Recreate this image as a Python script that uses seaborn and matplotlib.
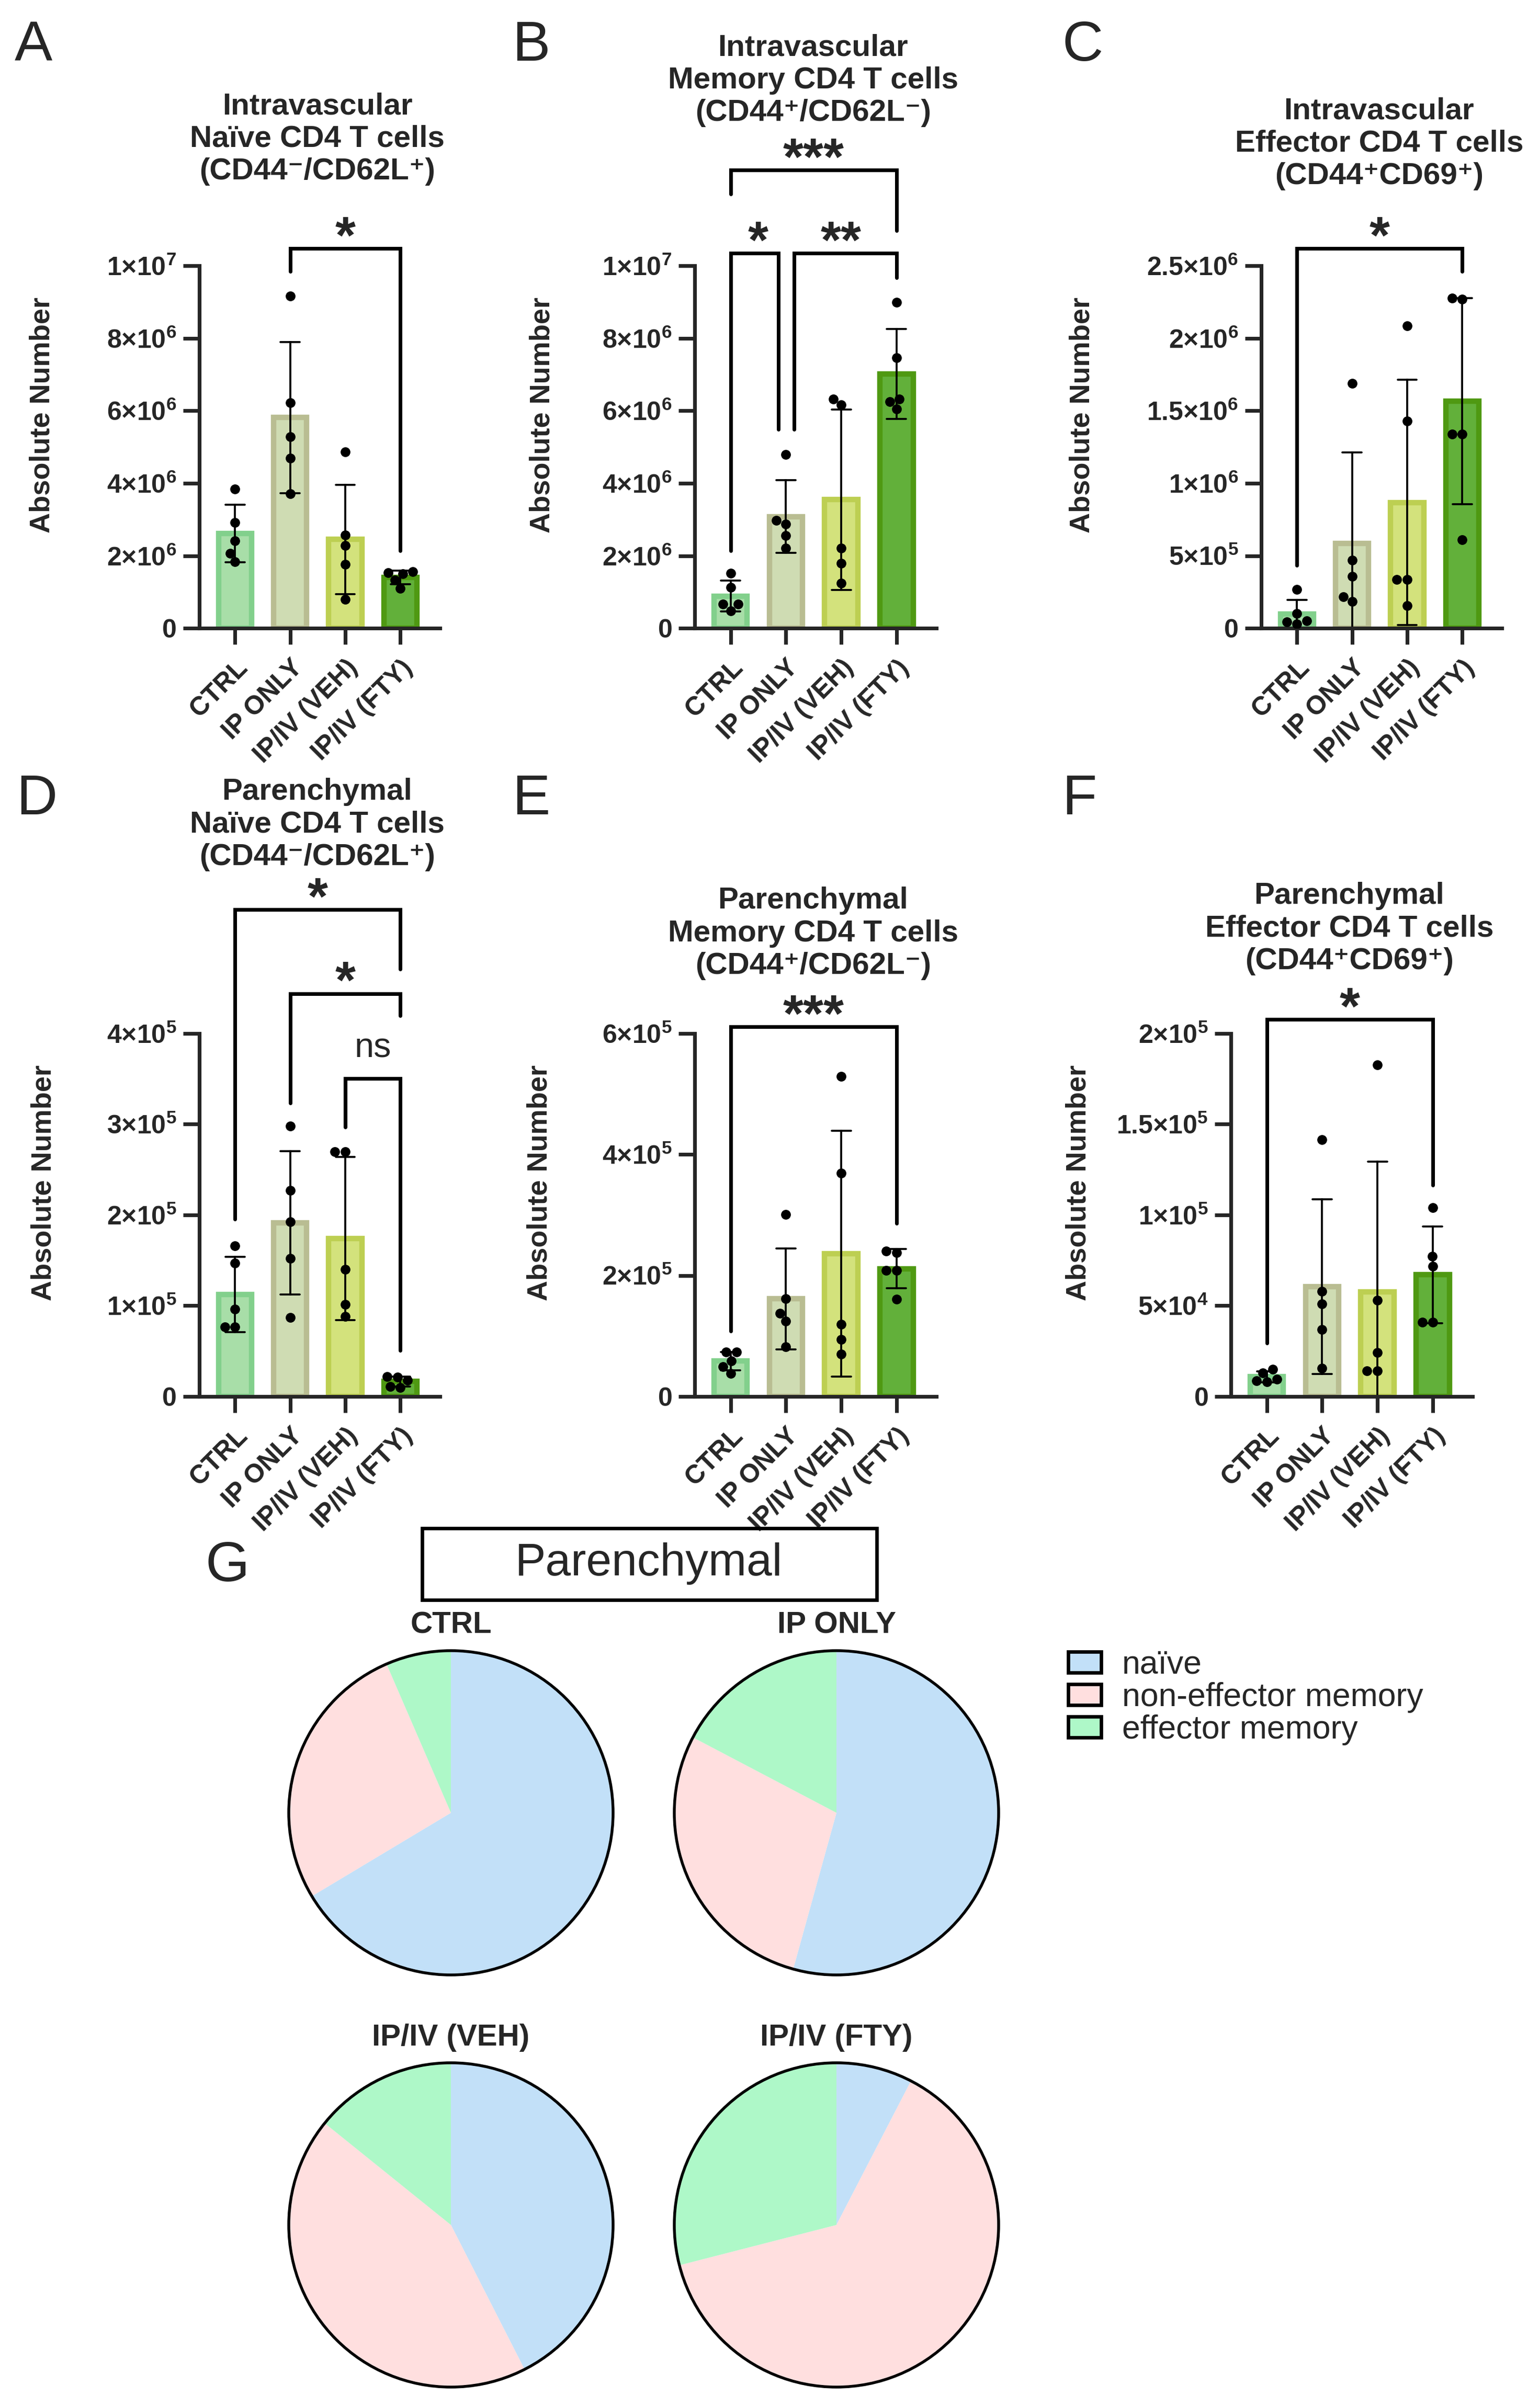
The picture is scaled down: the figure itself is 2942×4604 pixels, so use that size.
import numpy as np
import pandas as pd
import seaborn as sns
import matplotlib.pyplot as plt
from matplotlib.patches import Rectangle, Circle, Patch

sns.set_style('ticks')
plt.rcParams['font.family'] = ['Liberation Sans', 'DejaVu Sans']
plt.rcParams['mathtext.fontset'] = 'custom'
plt.rcParams['mathtext.rm'] = 'Liberation Sans'
plt.rcParams['mathtext.bf'] = 'Liberation Sans:bold'

# groups + colours
groups = ['CTRL', 'IP ONLY', 'IP/IV (VEH)', 'IP/IV (FTY)']
bar_fill = ['#a8dea8', '#cfdcb3', '#d3e27c', '#62b03a']
bar_edge = ['#82d08c', '#b9bd92', '#bdcf52', '#4f9912']

# values (5 mice per group)
iv_naive = [[3.84e6, 2.92e6, 2.41e6, 2.07e6, 1.83e6],
            [9.17e6, 6.22e6, 5.29e6, 4.69e6, 3.71e6],
            [4.86e6, 2.57e6, 2.28e6, 1.76e6, 0.79e6],
            [1.56e6, 1.53e6, 1.50e6, 1.33e6, 1.10e6]]
iv_memory = [[1.52e6, 1.13e6, 0.66e6, 0.66e6, 0.48e6],
             [4.79e6, 2.97e6, 2.87e6, 2.55e6, 2.21e6],
             [6.33e6, 6.16e6, 2.21e6, 1.79e6, 1.24e6],
             [9.00e6, 7.46e6, 6.33e6, 6.25e6, 6.05e6]]
iv_effector = [[2.68e5, 1.00e5, 0.50e5, 0.45e5, 0.30e5],
               [1.69e6, 4.69e5, 3.58e5, 2.18e5, 1.84e5],
               [2.085e6, 1.429e6, 3.35e5, 3.35e5, 1.57e5],
               [2.276e6, 2.27e6, 1.339e6, 1.339e6, 6.09e5]]
pa_naive = [[1.66e5, 1.47e5, 0.96e5, 0.765e5, 0.765e5],
            [2.98e5, 2.27e5, 1.925e5, 1.524e5, 0.872e5],
            [2.70e5, 2.70e5, 1.40e5, 1.016e5, 0.88e5],
            [0.22e5, 0.21e5, 0.18e5, 0.11e5, 0.10e5]]
pa_memory = [[0.73e5, 0.73e5, 0.59e5, 0.49e5, 0.38e5],
             [3.01e5, 1.62e5, 1.37e5, 1.24e5, 0.82e5],
             [5.29e5, 3.69e5, 1.19e5, 0.94e5, 0.70e5],
             [2.406e5, 2.38e5, 2.085e5, 2.085e5, 1.604e5]]
pa_effector = [[1.50e4, 1.30e4, 0.95e4, 0.85e4, 0.80e4],
               [14.16e4, 5.79e4, 5.09e4, 3.70e4, 1.55e4],
               [18.26e4, 5.31e4, 2.41e4, 1.42e4, 1.42e4],
               [10.40e4, 7.72e4, 7.18e4, 4.10e4, 4.10e4]]

titles = ['Intravascular\nNaïve CD4 T cells\n(CD44⁻/CD62L⁺)',
          'Intravascular\nMemory CD4 T cells\n(CD44⁺/CD62L⁻)',
          'Intravascular\nEffector CD4 T cells\n(CD44⁺CD69⁺)',
          'Parenchymal\nNaïve CD4 T cells\n(CD44⁻/CD62L⁺)',
          'Parenchymal\nMemory CD4 T cells\n(CD44⁺/CD62L⁻)',
          'Parenchymal\nEffector CD4 T cells\n(CD44⁺CD69⁺)']
letters = ['A', 'B', 'C', 'D', 'E', 'F']
yticks_list = [[0, 2e6, 4e6, 6e6, 8e6, 1e7],
               [0, 2e6, 4e6, 6e6, 8e6, 1e7],
               [0, 5e5, 1e6, 1.5e6, 2e6, 2.5e6],
               [0, 1e5, 2e5, 3e5, 4e5],
               [0, 2e5, 4e5, 6e5],
               [0, 5e4, 1e5, 1.5e5, 2e5]]

# significance: (group a, group b, label, bracket y, left leg end, right leg end, dx a, dx b)  y in axes fraction
comparisons = [
    [(1, 3, '*', 1.048, 0.984, 0.214, 0, 0)],
    [(0, 3, '***', 1.264, 1.198, 1.097, 0, 0),
     (0, 1, '*', 1.035, 0.214, 0.548, 0, -0.14),
     (1, 3, '**', 1.035, 0.548, 0.967, 0.15, 0)],
    [(0, 3, '*', 1.048, 0.173, 0.984, 0, 0)],
    [(0, 3, '*', 1.341, 0.488, 1.177, 0, 0),
     (1, 3, '*', 1.110, 0.808, 1.049, 0, 0),
     (2, 3, 'ns', 0.876, 0.742, 0.127, 0, 0)],
    [(0, 3, '***', 1.019, 0.180, 0.477, 0, 0)],
    [(0, 3, '*', 1.039, 0.147, 0.582, 0, 0)],
]

# pie chart fractions (%)
pie_groups = ['CTRL', 'IP ONLY', 'IP/IV (VEH)', 'IP/IV (FTY)']
pie_labels = ['naïve', 'non-effector memory', 'effector memory']
pie_colors = ['#c2e0f8', '#ffdfdf', '#aef8c8']
naive_pct = [66.4, 54.3, 42.5, 7.6]
noneff_pct = [27.1, 28.4, 43.3, 63.4]
eff_pct = [6.5, 17.3, 14.2, 29.0]

W, H = 2942, 4604
fig = plt.figure(figsize=(W / 300, H / 300), dpi=300)

axes_pos = [[0.1295, 0.7391, 0.1564, 0.1505],
            [0.4514, 0.7391, 0.1570, 0.1505],
            [0.8195, 0.7391, 0.1564, 0.1505],
            [0.1295, 0.4201, 0.1564, 0.1507],
            [0.4514, 0.4201, 0.1570, 0.1507],
            [0.7998, 0.4201, 0.1570, 0.1507]]
title_y = [1.238, 1.40, 1.225, 1.464, 1.164, 1.177]
ylabel_x = [-0.598, -0.578, -0.691, -0.593, -0.587, -0.578]
letter_xy = [(64, 88), (1015, 88), (2070, 88), (70, 1529), (1015, 1529), (2063, 1529)]


def fmt(v):
    if v == 0:
        return r'$\mathbf{0}$'
    e = int(np.floor(np.log10(v) + 1e-9))
    m = v / 10 ** e
    return r'$\mathbf{%s{\times}10^{%d}}$' % ('%g' % m, e)


def bracket(ax, a, b, lab, yb, y1, y2, da, db):
    tr = ax.get_xaxis_transform()
    x1, x2 = a + da, b + db
    ax.plot([x1, x1, x2, x2], [y1, yb, yb, y2], transform=tr, color='black',
            lw=1.7, clip_on=False, solid_joinstyle='miter')
    if lab == 'ns':
        ax.text((a + b) / 2, yb + 0.058, lab, transform=tr, ha='center',
                va='baseline', fontsize=16)
    else:
        ax.text((a + b) / 2, yb - 0.012, lab, transform=tr, ha='center',
                va='baseline', fontsize=24, fontweight='bold')


datasets = [iv_naive, iv_memory, iv_effector, pa_naive, pa_memory, pa_effector]
for k, vals in enumerate(datasets):
    ax = fig.add_axes(axes_pos[k])
    df = pd.DataFrame({'group': np.repeat(groups, 5),
                       'value': np.concatenate(vals)})
    sns.barplot(data=df, x='group', y='value', order=groups, errorbar='sd',
                capsize=0.35, width=0.6, color='white',
                err_kws={'color': 'black', 'linewidth': 0.9}, ax=ax)
    for p, fc, ec in zip(ax.patches, bar_fill, bar_edge):
        p.set_facecolor(fc)
        p.set_edgecolor(ec)
        p.set_linewidth(2.5)
    sns.swarmplot(data=df, x='group', y='value', order=groups, color='black',
                  size=4.5, zorder=4, ax=ax)
    ax.set_xlim(-0.65, 3.72)
    ax.set_ylim(0, yticks_list[k][-1])
    ax.set_yticks(yticks_list[k])
    ax.set_yticklabels([fmt(t) for t in yticks_list[k]])
    ax.set_xticks(range(4))
    ax.set_xticklabels(groups, rotation=45, ha='right', rotation_mode='anchor',
                       fontweight='bold', fontsize=12)
    ax.tick_params(axis='both', width=1.7, length=7.5, labelsize=12, pad=3)
    ax.tick_params(axis='x', pad=5)
    sns.despine(ax=ax)
    for s in ['left', 'bottom']:
        ax.spines[s].set_linewidth(1.7)
    ax.set_xlabel('')
    ax.set_ylabel('Absolute Number', fontsize=13, fontweight='bold')
    ax.yaxis.set_label_coords(ylabel_x[k], 0.589)
    ax.text(0.49, title_y[k], titles[k], transform=ax.transAxes, ha='center',
            va='baseline', fontsize=14, fontweight='bold', linespacing=1.2)
    for c in comparisons[k]:
        bracket(ax, *c)
    lx, ly = letter_xy[k]
    fig.text(lx / W, 1 - ly / H, letters[k], ha='center', va='center', fontsize=26)

# panel G - pies
fig.text(435 / W, 1 - 2995 / H, 'G', ha='center', va='center', fontsize=26)
fig.add_artist(Rectangle((807 / W, 1 - 3059 / H), 869 / W, 137 / H,
                         transform=fig.transFigure, fill=False, lw=1.6, ec='black'))
fig.text(1241 / W, 1 - 2990 / H, 'Parenchymal', ha='center', va='center', fontsize=21)

pie_centers = [(862, 3466), (1599, 3466), (862, 4254), (1599, 4254)]
r = 310
for i, g in enumerate(pie_groups):
    cx, cy = pie_centers[i]
    pax = fig.add_axes([(cx - r) / W, 1 - (cy + r) / H, 2 * r / W, 2 * r / H])
    pax.pie([naive_pct[i], noneff_pct[i], eff_pct[i]], colors=pie_colors,
            startangle=90, counterclock=False, radius=1,
            wedgeprops={'linewidth': 0})
    pax.add_patch(Circle((0, 0), 1, fill=False, ec='black', lw=1.3, clip_on=False))
    pax.set_xlim(-1, 1)
    pax.set_ylim(-1, 1)
    pax.set_aspect('equal')
    pax.axis('off')
    pax.text(0, 1.155, g, ha='center', va='center', fontsize=14, fontweight='bold')

handles = [Patch(facecolor=c, edgecolor='black', linewidth=1.6) for c in pie_colors]
fig.legend(handles, pie_labels, loc='upper left',
           bbox_to_anchor=(2042 / W, 1 - 3154 / H), frameon=False, fontsize=15,
           handlelength=1.0, handleheight=0.6, handletextpad=0.65,
           labelspacing=0.05, borderpad=0, borderaxespad=0)

fig.savefig('out.png', dpi=300)
